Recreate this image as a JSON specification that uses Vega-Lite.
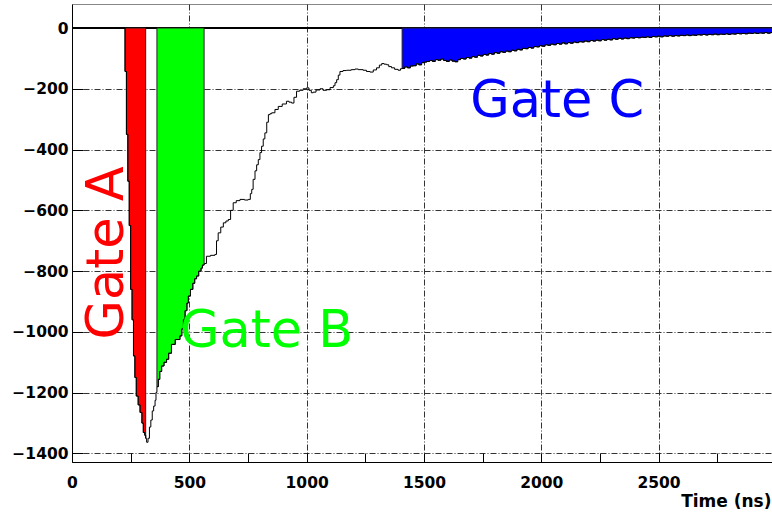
{
  "$schema": "https://vega.github.io/schema/vega-lite/v6.json",
  "width": 702,
  "height": 458,
  "autosize": "none",
  "padding": {"left": 72, "top": 4, "right": 0, "bottom": 51},
  "background": "white",
  "datasets": {
    "wave": [
      {"t":0,"v":0},{"t":226,"v":-143},{"t":232,"v":-350},{"t":238,"v":-504},{"t":244,"v":-650},{"t":250,"v":-860},{"t":256,"v":-960},{"t":262,"v":-1079},{"t":268,"v":-1150},{"t":274,"v":-1211},{"t":282,"v":-1240},{"t":290,"v":-1265},{"t":298,"v":-1300},{"t":304,"v":-1331},{"t":310,"v":-1340},{"t":314,"v":-1350},{"t":318,"v":-1363},{"t":324,"v":-1350},{"t":330,"v":-1313},{"t":336,"v":-1290},{"t":342,"v":-1260},{"t":348,"v":-1244},{"t":354,"v":-1225},{"t":358,"v":-1199},{"t":362,"v":-1180},{"t":368,"v":-1156},{"t":374,"v":-1130},{"t":382,"v":-1112},{"t":392,"v":-1100},{"t":403,"v":-1090},{"t":412,"v":-1070},{"t":424,"v":-1041},{"t":440,"v":-1025},{"t":460,"v":-1013},{"t":468,"v":-990},{"t":475,"v":-959},{"t":482,"v":-930},{"t":490,"v":-905},{"t":496,"v":-882},{"t":505,"v":-860},{"t":515,"v":-840},{"t":523,"v":-825},{"t":531,"v":-816},{"t":540,"v":-800},{"t":550,"v":-790},{"t":556,"v":-780},{"t":563,"v":-775},{"t":573,"v":-751},{"t":590,"v":-748},{"t":609,"v":-745},{"t":616,"v":-700},{"t":623,"v":-674},{"t":634,"v":-655},{"t":645,"v":-641},{"t":656,"v":-635},{"t":666,"v":-630},{"t":676,"v":-600},{"t":687,"v":-575},{"t":700,"v":-568},{"t":716,"v":-564},{"t":735,"v":-566},{"t":751,"v":-564},{"t":760,"v":-545},{"t":766,"v":-531},{"t":772,"v":-498},{"t":780,"v":-470},{"t":787,"v":-450},{"t":794,"v":-433},{"t":801,"v":-410},{"t":808,"v":-389},{"t":815,"v":-365},{"t":822,"v":-345},{"t":830,"v":-310},{"t":837,"v":-285},{"t":844,"v":-282},{"t":851,"v":-279},{"t":865,"v":-268},{"t":879,"v":-258},{"t":896,"v":-250},{"t":914,"v":-241},{"t":925,"v":-244},{"t":936,"v":-247},{"t":946,"v":-228},{"t":957,"v":-208},{"t":970,"v":-205},{"t":985,"v":-200},{"t":1000,"v":-197},{"t":1010,"v":-205},{"t":1020,"v":-213},{"t":1028,"v":-211},{"t":1040,"v":-204},{"t":1057,"v":-200},{"t":1070,"v":-205},{"t":1085,"v":-203},{"t":1100,"v":-196},{"t":1114,"v":-190},{"t":1121,"v":-180},{"t":1128,"v":-170},{"t":1135,"v":-155},{"t":1142,"v":-143},{"t":1155,"v":-140},{"t":1170,"v":-139},{"t":1190,"v":-137},{"t":1206,"v":-135},{"t":1220,"v":-137},{"t":1241,"v":-139},{"t":1255,"v":-143},{"t":1270,"v":-145},{"t":1284,"v":-138},{"t":1298,"v":-131},{"t":1310,"v":-122},{"t":1320,"v":-117},{"t":1330,"v":-119},{"t":1341,"v":-121},{"t":1350,"v":-127},{"t":1362,"v":-131},{"t":1375,"v":-136},{"t":1390,"v":-139},{"t":1400,"v":-134},
      {"t":1407,"v":-133},{"t":1418,"v":-128},{"t":1430,"v":-131},{"t":1442,"v":-125},{"t":1455,"v":-124},{"t":1467,"v":-118},{"t":1478,"v":-121},{"t":1490,"v":-114},{"t":1502,"v":-112},{"t":1512,"v":-110},{"t":1524,"v":-107},{"t":1536,"v":-110},{"t":1548,"v":-104},{"t":1560,"v":-106},{"t":1572,"v":-102},{"t":1584,"v":-107},{"t":1596,"v":-110},{"t":1608,"v":-105},{"t":1620,"v":-109},{"t":1632,"v":-111},{"t":1644,"v":-104},{"t":1656,"v":-100},{"t":1668,"v":-102},{"t":1680,"v":-97},{"t":1692,"v":-99},{"t":1704,"v":-94},{"t":1716,"v":-96},{"t":1728,"v":-90},{"t":1740,"v":-92},{"t":1752,"v":-87},{"t":1764,"v":-89},{"t":1776,"v":-84},{"t":1788,"v":-86},{"t":1800,"v":-81},{"t":1812,"v":-83},{"t":1824,"v":-78},{"t":1836,"v":-80},{"t":1848,"v":-76},{"t":1860,"v":-78},{"t":1872,"v":-73},{"t":1884,"v":-75},{"t":1896,"v":-70},{"t":1908,"v":-72},{"t":1920,"v":-67},{"t":1932,"v":-68},{"t":1944,"v":-64},{"t":1956,"v":-66},{"t":1968,"v":-61},{"t":1980,"v":-62},{"t":1992,"v":-58},{"t":2004,"v":-60},{"t":2016,"v":-55},{"t":2028,"v":-57},{"t":2040,"v":-53},{"t":2052,"v":-55},{"t":2064,"v":-51},{"t":2076,"v":-53},{"t":2088,"v":-49},{"t":2100,"v":-52},{"t":2112,"v":-48},{"t":2124,"v":-50},{"t":2136,"v":-46},{"t":2148,"v":-48},{"t":2160,"v":-45},{"t":2172,"v":-46},{"t":2184,"v":-43},{"t":2196,"v":-45},{"t":2208,"v":-41},{"t":2220,"v":-43},{"t":2232,"v":-40},{"t":2244,"v":-42},{"t":2256,"v":-38},{"t":2268,"v":-40},{"t":2280,"v":-37},{"t":2292,"v":-39},{"t":2304,"v":-35},{"t":2316,"v":-37},{"t":2328,"v":-34},{"t":2340,"v":-36},{"t":2352,"v":-33},{"t":2364,"v":-35},{"t":2376,"v":-32},{"t":2388,"v":-33},{"t":2400,"v":-31},{"t":2412,"v":-32},{"t":2424,"v":-30},{"t":2436,"v":-31},{"t":2448,"v":-29},{"t":2460,"v":-31},{"t":2472,"v":-28},{"t":2484,"v":-29},{"t":2496,"v":-27},{"t":2508,"v":-29},{"t":2520,"v":-26},{"t":2532,"v":-27},{"t":2544,"v":-25},{"t":2556,"v":-27},{"t":2568,"v":-25},{"t":2580,"v":-26},{"t":2592,"v":-24},{"t":2604,"v":-25},{"t":2616,"v":-23},{"t":2628,"v":-25},{"t":2640,"v":-23},{"t":2652,"v":-24},{"t":2664,"v":-22},{"t":2676,"v":-23},{"t":2688,"v":-21},{"t":2700,"v":-23},{"t":2712,"v":-21},{"t":2724,"v":-22},{"t":2736,"v":-20},{"t":2748,"v":-22},{"t":2760,"v":-20},{"t":2772,"v":-21},{"t":2784,"v":-19},{"t":2796,"v":-21},{"t":2808,"v":-19},{"t":2820,"v":-20},{"t":2832,"v":-18},{"t":2844,"v":-19},{"t":2856,"v":-18},{"t":2868,"v":-19},{"t":2880,"v":-17},{"t":2892,"v":-18},{"t":2904,"v":-16},{"t":2916,"v":-18},{"t":2928,"v":-16},{"t":2940,"v":-17},{"t":2952,"v":-15},{"t":2964,"v":-17},{"t":2976,"v":-15},{"t":2992,"v":-15}
    ],
    "labels": [
      {"label": "Gate A", "t": 217, "v": -1025, "gate": "A"},
      {"label": "Gate B", "t": 460, "v": -1048, "gate": "B"},
      {"label": "Gate C", "t": 1697, "v": -292, "gate": "C"}
    ]
  },
  "layer": [
    {
      "data": {"name": "wave"},
      "mark": {"type": "rule", "color": "black", "strokeWidth": 1},
      "encoding": {"y": {"datum": 0, "type": "quantitative"}}
    },
    {
      "data": {"name": "wave"},
      "transform": [{"filter": "datum.t >= 226 && datum.t <= 314"}],
      "mark": {"type": "area", "interpolate": "step-after", "color": "#ff0000", "stroke": "#222222", "strokeWidth": 1, "opacity": 1},
      "encoding": {
        "x": {"field": "t", "type": "quantitative"},
        "y": {"field": "v", "type": "quantitative", "stack": null}
      }
    },
    {
      "data": {"name": "wave"},
      "transform": [{"filter": "datum.t >= 362 && datum.t <= 563"}],
      "mark": {"type": "area", "interpolate": "step-after", "color": "#00ff00", "stroke": "#222222", "strokeWidth": 1, "opacity": 1},
      "encoding": {
        "x": {"field": "t", "type": "quantitative"},
        "y": {"field": "v", "type": "quantitative", "stack": null}
      }
    },
    {
      "data": {"name": "wave"},
      "transform": [{"filter": "datum.t >= 1407"}],
      "mark": {"type": "area", "interpolate": "step-after", "color": "#0000ff", "stroke": "#222222", "strokeWidth": 1, "opacity": 1},
      "encoding": {
        "x": {"field": "t", "type": "quantitative"},
        "y": {"field": "v", "type": "quantitative", "stack": null}
      }
    },
    {
      "data": {"name": "wave"},
      "mark": {"type": "line", "interpolate": "step-after", "color": "black", "strokeWidth": 1},
      "encoding": {
        "x": {
          "field": "t", "type": "quantitative",
          "scale": {"domain": [0, 2992], "nice": false, "zero": false},
          "axis": {
            "values": [0, 250, 500, 750, 1000, 1250, 1500, 1750, 2000, 2250, 2500, 2750],
            "format": "d",
            "labelExpr": "datum.value % 500 === 0 ? datum.label : ''",
            "tickSize": -9,
            "tickColor": "black",
            "labelPadding": 22,
            "labelFont": "DejaVu Sans",
            "labelFontWeight": "bold",
            "labelFontSize": 15.5,
            "labelColor": "black",
            "labelFlush": false,
            "labelOverlap": false,
            "labelBound": false,
            "domainColor": "black",
            "grid": true,
            "gridColor": "#333333",
            "gridDash": [6, 2, 1, 2],
            "gridWidth": 1,
            "gridOpacity": {"condition": {"test": "datum.value % 500 === 0 && datum.value > 0", "value": 1}, "value": 0},
            "title": "Time (ns)",
            "titleFont": "DejaVu Sans",
            "titleFontWeight": "bold",
            "titleFontSize": 17,
            "titleColor": "black",
            "titleAlign": "right",
            "titleAnchor": null,
            "titleBaseline": "alphabetic",
            "titleX": 699,
            "titleY": 44
          }
        },
        "y": {
          "field": "v", "type": "quantitative",
          "scale": {"domain": [-1428, 79], "nice": false, "zero": false},
          "axis": {
            "values": [-1400, -1350, -1300, -1250, -1200, -1150, -1100, -1050, -1000, -950, -900, -850, -800, -750, -700, -650, -600, -550, -500, -450, -400, -350, -300, -250, -200, -150, -100, -50, 0, 50],
            "format": "d",
            "labelExpr": "datum.value % 200 === 0 ? datum.label : ''",
            "tickSize": -11,
            "tickColor": "black",
            "labelPadding": 15,
            "labelFont": "DejaVu Sans",
            "labelFontWeight": "bold",
            "labelFontSize": 15.5,
            "labelColor": "black",
            "labelFlush": false,
            "labelOverlap": false,
            "labelBound": false,
            "domainColor": "black",
            "grid": true,
            "gridColor": "#333333",
            "gridDash": [6, 2, 1, 2],
            "gridWidth": 1,
            "gridOpacity": {"condition": {"test": "datum.value % 200 === 0 && datum.value !== 0", "value": 1}, "value": 0},
            "title": null
          }
        }
      }
    },
    {
      "data": {"name": "labels"},
      "mark": {"type": "text", "font": "DejaVu Sans", "fontSize": 51, "align": "left", "baseline": "alphabetic"},
      "encoding": {
        "x": {"field": "t", "type": "quantitative"},
        "y": {"field": "v", "type": "quantitative"},
        "text": {"field": "label"},
        "angle": {"condition": {"test": "datum.gate === 'A'", "value": 270}, "value": 0},
        "color": {
          "field": "gate", "type": "nominal",
          "scale": {"domain": ["A", "B", "C"], "range": ["#ff0000", "#00ff00", "#0000ff"]},
          "legend": null
        }
      }
    }
  ],
  "config": {
    "view": {"stroke": "#888888", "strokeWidth": 1}
  }
}
